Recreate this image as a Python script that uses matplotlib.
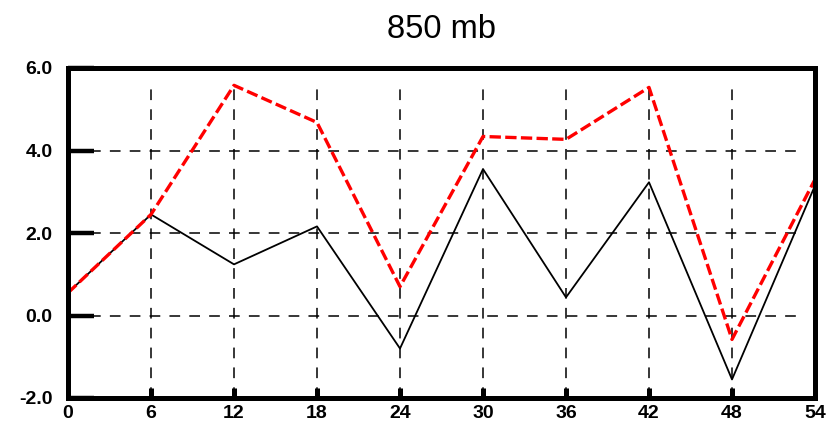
import matplotlib
matplotlib.use("Agg")
import matplotlib.pyplot as plt

plt.rcParams['font.family'] = ['Liberation Sans', 'DejaVu Sans']

# forecast hour and the two 850 mb series
hours = [0, 6, 12, 18, 24, 30, 36, 42, 48, 54]
red_series = [0.55, 2.45, 5.58, 4.68, 0.70, 4.34, 4.27, 5.53, -0.58, 3.30]
black_series = [0.55, 2.45, 1.24, 2.16, -0.80, 3.55, 0.44, 3.23, -1.55, 3.15]

x_ticks = [0, 6, 12, 18, 24, 30, 36, 42, 48, 54]
y_ticks = [-2.0, 0.0, 2.0, 4.0, 6.0]
title = "850 mb"

fig = plt.figure(figsize=(8.4, 4.32), dpi=100)
ax = fig.add_axes([68 / 840, 1 - 398 / 432, (815 - 68) / 840, (398 - 68) / 432])

ax.set_xlim(0, 54)
ax.set_ylim(-2.0, 6.0)

# dashed grid, vertical lines stop short of the top frame
xtr = ax.get_xaxis_transform()
ytr = ax.get_yaxis_transform()
for xv in x_ticks[1:-1]:
    ax.plot([xv, xv], [0, 0.955], transform=xtr, color='black', lw=1.1,
            dashes=(7, 6), zorder=1)
for yv in y_ticks[1:-1]:
    ax.plot([0.03, 0.985], [yv, yv], transform=ytr, color='black', lw=1.1,
            dashes=(7, 6), zorder=1)

ax.plot(hours, black_series, color='black', lw=1.3, zorder=3)
ax.plot(hours, red_series, color='#ff0000', lw=2.4, dashes=(3.4, 1.3), zorder=4)

for s in ax.spines.values():
    s.set_linewidth(3.6)
    s.set_zorder(5)

ax.set_xticks(x_ticks)
ax.set_xticklabels([str(v) for v in x_ticks])
ax.set_yticks(y_ticks)
ax.set_yticklabels([f"{v:.1f}" for v in y_ticks])

ax.tick_params(axis='y', direction='in', length=19, width=3.2, pad=11,
               labelsize=14)
ax.tick_params(axis='x', direction='in', length=7, width=3.6, pad=5,
               labelsize=14)
for lab in ax.get_xticklabels() + ax.get_yticklabels():
    lab.set_fontweight('bold')

fig.text((68 + 815) / 2 / 840, 1 - 29 / 432, title, ha='center', va='center',
         fontsize=23.5)

fig.savefig("out.png", dpi=100)
